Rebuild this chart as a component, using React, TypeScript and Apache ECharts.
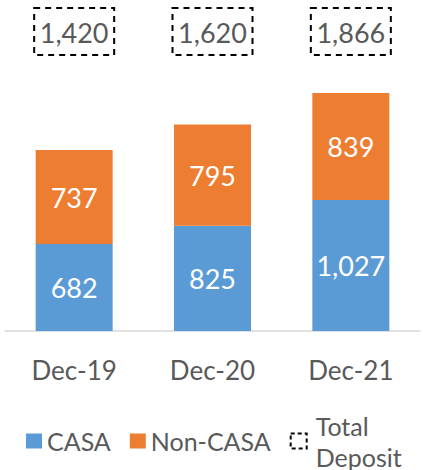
import React, { useEffect, useRef } from "react";
import * as echarts from "echarts";

const categories = ["Dec-19", "Dec-20", "Dec-21"];
const casa = [682, 825, 1027];
const nonCasa = [737, 795, 839];
const totalDeposit = [1420, 1620, 1866];

const FONT = "Lato";
const TEXT = "#595959";
const fmt = (v: number) => v.toLocaleString("en-US");

export default function App() {
  const ref = useRef<HTMLDivElement>(null);
  useEffect(() => {
    if (!ref.current) return;
    const chart = echarts.init(ref.current, undefined, { renderer: "svg" });
    chart.setOption({
      animation: false,
      grid: { left: 5, right: 3, top: 76, bottom: 139, containLabel: false },
      legend: {
        left: 21,
        top: 405,
        itemWidth: 16,
        itemHeight: 15,
        itemGap: 19,
        textStyle: { fontFamily: FONT, fontSize: 25, color: TEXT, lineHeight: 31 },
        formatter: (n: string) => (n === "Total Deposit" ? "Total\nDeposit" : n),
        data: [
          { name: "CASA", icon: "rect" },
          { name: "Non-CASA", icon: "rect" },
          {
            name: "Total Deposit",
            icon: "rect",
            textStyle: { padding: [0, 0, 0, 4] },
            itemStyle: {
              color: "rgba(0,0,0,0)",
              borderColor: "#000",
              borderWidth: 2,
              borderType: [4, 3],
            },
          },
        ],
      },
      xAxis: {
        type: "category",
        data: categories,
        axisLine: { lineStyle: { color: "#D9D9D9", width: 1.5 } },
        axisTick: { show: false },
        axisLabel: { fontFamily: FONT, fontSize: 26, color: TEXT, margin: 26 },
      },
      yAxis: {
        type: "value",
        min: 0,
        max: 2000,
        show: false,
        splitLine: { show: false },
      },
      series: [
        {
          name: "CASA",
          type: "bar",
          stack: "dep",
          data: casa,
          barWidth: 77,
          itemStyle: { color: "#5B9BD5" },
          label: {
            show: true,
            position: "inside",
            color: "#fff",
            fontFamily: FONT,
            fontSize: 27,
            formatter: (p: any) => fmt(p.value),
          },
        },
        {
          name: "Non-CASA",
          type: "bar",
          stack: "dep",
          data: nonCasa,
          barWidth: 77,
          itemStyle: { color: "#ED7D31" },
          label: {
            show: true,
            position: "inside",
            color: "#fff",
            fontFamily: FONT,
            fontSize: 27,
            formatter: (p: any) => fmt(p.value),
          },
        },
        {
          name: "Total Deposit",
          type: "custom",
          data: totalDeposit.map((v, i) => [i, v]),
          encode: { x: 0, y: 1 },
          itemStyle: { color: "rgba(0,0,0,0)", borderColor: "#000" },
          renderItem: (params: any, api: any) => {
            const x = api.coord([api.value(0), 0])[0];
            return {
              type: "group",
              children: [
                {
                  type: "rect",
                  shape: { x: x - 40, y: 8, width: 80, height: 47 },
                  style: { fill: "none", stroke: "#000", lineWidth: 2, lineDash: [6, 5] },
                },
                {
                  type: "text",
                  style: {
                    text: fmt(api.value(1)),
                    x,
                    y: 32,
                    align: "center",
                    verticalAlign: "middle",
                    fill: TEXT,
                    font: `27px ${FONT}`,
                  },
                },
              ],
            };
          },
        },
      ],
    });
    return () => chart.dispose();
  }, []);
  return <div ref={ref} style={{ width: 423, height: 470, position: "absolute", left: 0, top: 0 }} />;
}
